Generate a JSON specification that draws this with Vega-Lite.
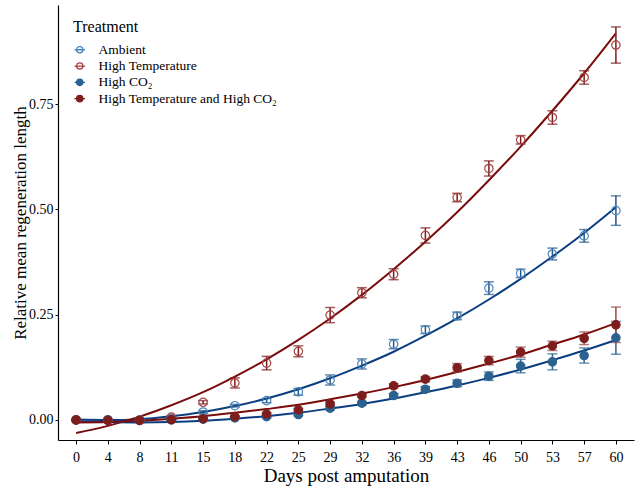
{
"$schema":"https://vega.github.io/schema/vega-lite/v6.json",
"width":576,"height":435,
"autosize":{"type":"none"},
"padding":{"left":58,"top":5,"right":2,"bottom":47},
"config":{"font":"Liberation Serif","view":{"stroke":null},"background":"white"},
"datasets":{"d":[
{"Day":0,"Treatment":"Ambient","Mean":0.000,"Lo":-0.001,"Hi":0.001,"Fit":0.001},
{"Day":4,"Treatment":"Ambient","Mean":0.000,"Lo":-0.001,"Hi":0.001,"Fit":0.000},
{"Day":8,"Treatment":"Ambient","Mean":0.000,"Lo":-0.001,"Hi":0.001,"Fit":0.002},
{"Day":11,"Treatment":"Ambient","Mean":0.004,"Lo":0.002,"Hi":0.006,"Fit":0.009},
{"Day":15,"Treatment":"Ambient","Mean":0.019,"Lo":0.016,"Hi":0.022,"Fit":0.019},
{"Day":18,"Treatment":"Ambient","Mean":0.034,"Lo":0.031,"Hi":0.037,"Fit":0.033},
{"Day":22,"Treatment":"Ambient","Mean":0.046,"Lo":0.041,"Hi":0.051,"Fit":0.051},
{"Day":25,"Treatment":"Ambient","Mean":0.067,"Lo":0.059,"Hi":0.075,"Fit":0.073},
{"Day":29,"Treatment":"Ambient","Mean":0.095,"Lo":0.083,"Hi":0.107,"Fit":0.099},
{"Day":32,"Treatment":"Ambient","Mean":0.133,"Lo":0.121,"Hi":0.145,"Fit":0.129},
{"Day":36,"Treatment":"Ambient","Mean":0.180,"Lo":0.169,"Hi":0.191,"Fit":0.162},
{"Day":39,"Treatment":"Ambient","Mean":0.214,"Lo":0.205,"Hi":0.223,"Fit":0.200},
{"Day":43,"Treatment":"Ambient","Mean":0.247,"Lo":0.238,"Hi":0.256,"Fit":0.241},
{"Day":46,"Treatment":"Ambient","Mean":0.313,"Lo":0.298,"Hi":0.328,"Fit":0.286},
{"Day":50,"Treatment":"Ambient","Mean":0.348,"Lo":0.338,"Hi":0.358,"Fit":0.335},
{"Day":53,"Treatment":"Ambient","Mean":0.394,"Lo":0.380,"Hi":0.408,"Fit":0.388},
{"Day":57,"Treatment":"Ambient","Mean":0.437,"Lo":0.422,"Hi":0.452,"Fit":0.444},
{"Day":60,"Treatment":"Ambient","Mean":0.497,"Lo":0.462,"Hi":0.532,"Fit":0.505},
{"Day":0,"Treatment":"High Temperature","Mean":0.000,"Lo":-0.001,"Hi":0.001,"Fit":-0.031},
{"Day":4,"Treatment":"High Temperature","Mean":0.000,"Lo":-0.001,"Hi":0.001,"Fit":-0.014},
{"Day":8,"Treatment":"High Temperature","Mean":0.000,"Lo":-0.002,"Hi":0.002,"Fit":0.008},
{"Day":11,"Treatment":"High Temperature","Mean":0.007,"Lo":0.004,"Hi":0.010,"Fit":0.035},
{"Day":15,"Treatment":"High Temperature","Mean":0.042,"Lo":0.038,"Hi":0.046,"Fit":0.066},
{"Day":18,"Treatment":"High Temperature","Mean":0.088,"Lo":0.076,"Hi":0.100,"Fit":0.103},
{"Day":22,"Treatment":"High Temperature","Mean":0.135,"Lo":0.119,"Hi":0.151,"Fit":0.144},
{"Day":25,"Treatment":"High Temperature","Mean":0.163,"Lo":0.150,"Hi":0.176,"Fit":0.190},
{"Day":29,"Treatment":"High Temperature","Mean":0.249,"Lo":0.231,"Hi":0.267,"Fit":0.241},
{"Day":32,"Treatment":"High Temperature","Mean":0.302,"Lo":0.290,"Hi":0.314,"Fit":0.297},
{"Day":36,"Treatment":"High Temperature","Mean":0.346,"Lo":0.333,"Hi":0.359,"Fit":0.358},
{"Day":39,"Treatment":"High Temperature","Mean":0.438,"Lo":0.420,"Hi":0.456,"Fit":0.423},
{"Day":43,"Treatment":"High Temperature","Mean":0.528,"Lo":0.518,"Hi":0.538,"Fit":0.493},
{"Day":46,"Treatment":"High Temperature","Mean":0.597,"Lo":0.579,"Hi":0.615,"Fit":0.569},
{"Day":50,"Treatment":"High Temperature","Mean":0.665,"Lo":0.655,"Hi":0.675,"Fit":0.649},
{"Day":53,"Treatment":"High Temperature","Mean":0.718,"Lo":0.702,"Hi":0.734,"Fit":0.734},
{"Day":57,"Treatment":"High Temperature","Mean":0.813,"Lo":0.797,"Hi":0.829,"Fit":0.823},
{"Day":60,"Treatment":"High Temperature","Mean":0.890,"Lo":0.847,"Hi":0.933,"Fit":0.918},
{"Day":0,"Treatment":"High CO₂","Mean":0.000,"Lo":-0.001,"Hi":0.001,"Fit":-0.003},
{"Day":4,"Treatment":"High CO₂","Mean":0.000,"Lo":-0.001,"Hi":0.001,"Fit":-0.005},
{"Day":8,"Treatment":"High CO₂","Mean":-0.001,"Lo":-0.002,"Hi":0.000,"Fit":-0.006},
{"Day":11,"Treatment":"High CO₂","Mean":0.000,"Lo":-0.001,"Hi":0.001,"Fit":-0.005},
{"Day":15,"Treatment":"High CO₂","Mean":0.002,"Lo":0.000,"Hi":0.004,"Fit":-0.002},
{"Day":18,"Treatment":"High CO₂","Mean":0.005,"Lo":0.003,"Hi":0.007,"Fit":0.003},
{"Day":22,"Treatment":"High CO₂","Mean":0.008,"Lo":0.005,"Hi":0.011,"Fit":0.009},
{"Day":25,"Treatment":"High CO₂","Mean":0.013,"Lo":0.010,"Hi":0.016,"Fit":0.017},
{"Day":29,"Treatment":"High CO₂","Mean":0.028,"Lo":0.024,"Hi":0.032,"Fit":0.027},
{"Day":32,"Treatment":"High CO₂","Mean":0.040,"Lo":0.036,"Hi":0.044,"Fit":0.038},
{"Day":36,"Treatment":"High CO₂","Mean":0.058,"Lo":0.053,"Hi":0.063,"Fit":0.051},
{"Day":39,"Treatment":"High CO₂","Mean":0.073,"Lo":0.067,"Hi":0.079,"Fit":0.066},
{"Day":43,"Treatment":"High CO₂","Mean":0.087,"Lo":0.079,"Hi":0.095,"Fit":0.082},
{"Day":46,"Treatment":"High CO₂","Mean":0.104,"Lo":0.094,"Hi":0.114,"Fit":0.100},
{"Day":50,"Treatment":"High CO₂","Mean":0.128,"Lo":0.112,"Hi":0.144,"Fit":0.120},
{"Day":53,"Treatment":"High CO₂","Mean":0.138,"Lo":0.119,"Hi":0.157,"Fit":0.142},
{"Day":57,"Treatment":"High CO₂","Mean":0.153,"Lo":0.135,"Hi":0.171,"Fit":0.165},
{"Day":60,"Treatment":"High CO₂","Mean":0.195,"Lo":0.156,"Hi":0.234,"Fit":0.190},
{"Day":0,"Treatment":"High Temperature and High CO₂","Mean":0.000,"Lo":-0.001,"Hi":0.001,"Fit":-0.006},
{"Day":4,"Treatment":"High Temperature and High CO₂","Mean":-0.001,"Lo":-0.002,"Hi":0.000,"Fit":-0.005},
{"Day":8,"Treatment":"High Temperature and High CO₂","Mean":-0.001,"Lo":-0.002,"Hi":0.000,"Fit":-0.002},
{"Day":11,"Treatment":"High Temperature and High CO₂","Mean":0.001,"Lo":0.000,"Hi":0.002,"Fit":0.003},
{"Day":15,"Treatment":"High Temperature and High CO₂","Mean":0.003,"Lo":0.001,"Hi":0.005,"Fit":0.009},
{"Day":18,"Treatment":"High Temperature and High CO₂","Mean":0.008,"Lo":0.006,"Hi":0.010,"Fit":0.017},
{"Day":22,"Treatment":"High Temperature and High CO₂","Mean":0.014,"Lo":0.011,"Hi":0.017,"Fit":0.026},
{"Day":25,"Treatment":"High Temperature and High CO₂","Mean":0.024,"Lo":0.021,"Hi":0.027,"Fit":0.036},
{"Day":29,"Treatment":"High Temperature and High CO₂","Mean":0.038,"Lo":0.034,"Hi":0.042,"Fit":0.049},
{"Day":32,"Treatment":"High Temperature and High CO₂","Mean":0.058,"Lo":0.054,"Hi":0.062,"Fit":0.063},
{"Day":36,"Treatment":"High Temperature and High CO₂","Mean":0.081,"Lo":0.076,"Hi":0.086,"Fit":0.078},
{"Day":39,"Treatment":"High Temperature and High CO₂","Mean":0.097,"Lo":0.091,"Hi":0.103,"Fit":0.095},
{"Day":43,"Treatment":"High Temperature and High CO₂","Mean":0.124,"Lo":0.114,"Hi":0.134,"Fit":0.114},
{"Day":46,"Treatment":"High Temperature and High CO₂","Mean":0.141,"Lo":0.131,"Hi":0.151,"Fit":0.134},
{"Day":50,"Treatment":"High Temperature and High CO₂","Mean":0.161,"Lo":0.149,"Hi":0.173,"Fit":0.155},
{"Day":53,"Treatment":"High Temperature and High CO₂","Mean":0.176,"Lo":0.165,"Hi":0.187,"Fit":0.179},
{"Day":57,"Treatment":"High Temperature and High CO₂","Mean":0.194,"Lo":0.179,"Hi":0.209,"Fit":0.203},
{"Day":60,"Treatment":"High Temperature and High CO₂","Mean":0.226,"Lo":0.184,"Hi":0.268,"Fit":0.230}
]},
"data":{"name":"d"},
"encoding":{
 "x":{"field":"Day","type":"ordinal","scale":{"type":"point","padding":0.57},
  "axis":{"title":"Days post amputation","titleFontSize":19,"titleFontWeight":"normal","titleColor":"black","labelFontSize":14,"labelColor":"black","labelAngle":0,"domainColor":"black","domainWidth":1.2,"tickColor":"black","tickSize":4,"labelPadding":6,"titlePadding":2,"grid":false}}
},
"layer":[
 {"mark":{"type":"line","interpolate":"monotone","strokeWidth":2},
  "encoding":{
   "y":{"field":"Fit","type":"quantitative","title":"Relative mean regeneration length","scale":{"domain":[-0.0475,0.985],"nice":false,"zero":false},
    "axis":{"values":[0,0.25,0.5,0.75],"format":".2f","titleFontSize":17,"titleFontWeight":"normal","titleColor":"black","labelFontSize":14,"labelColor":"black","domainColor":"black","domainWidth":1.2,"tickColor":"black","tickSize":3,"labelPadding":2,"titlePadding":-1,"grid":false}},
   "color":{"field":"Treatment","type":"nominal","legend":null,"scale":{"domain":["Ambient","High Temperature","High CO₂","High Temperature and High CO₂"],"range":["#0b3e80","#7a0c0c","#0b3e80","#7a0c0c"]}}
  }},
 {"mark":{"type":"rule","strokeWidth":1.5},
  "encoding":{
   "y":{"field":"Lo","type":"quantitative","title":"Relative mean regeneration length","scale":{"domain":[-0.0475,0.985],"nice":false,"zero":false}},
   "y2":{"field":"Hi"},
   "color":{"field":"Treatment","type":"nominal","legend":null,"scale":{"domain":["Ambient","High Temperature","High CO₂","High Temperature and High CO₂"],"range":["#24558c","#7d1d1d","#2f6590","#9b4545"]}}
  }},
 {"mark":{"type":"tick","thickness":1.5,"size":10,"orient":"horizontal"},
  "encoding":{
   "y":{"field":"Lo","type":"quantitative","title":"Relative mean regeneration length","scale":{"domain":[-0.0475,0.985],"nice":false,"zero":false}},
   "color":{"field":"Treatment","type":"nominal","legend":null,"scale":{"domain":["Ambient","High Temperature","High CO₂","High Temperature and High CO₂"],"range":["#24558c","#7d1d1d","#2f6590","#9b4545"]}}
  }},
 {"mark":{"type":"tick","thickness":1.5,"size":10,"orient":"horizontal"},
  "encoding":{
   "y":{"field":"Hi","type":"quantitative","title":"Relative mean regeneration length","scale":{"domain":[-0.0475,0.985],"nice":false,"zero":false}},
   "color":{"field":"Treatment","type":"nominal","legend":null,"scale":{"domain":["Ambient","High Temperature","High CO₂","High Temperature and High CO₂"],"range":["#24558c","#7d1d1d","#2f6590","#9b4545"]}}
  }},
 {"mark":{"type":"circle","size":70,"strokeWidth":1.2,"opacity":1},
  "encoding":{
   "y":{"field":"Mean","type":"quantitative","title":"Relative mean regeneration length","scale":{"domain":[-0.0475,0.985],"nice":false,"zero":false}},
   "fill":{"field":"Treatment","type":"nominal","scale":{"domain":["Ambient","High Temperature","High CO₂","High Temperature and High CO₂"],"range":["transparent","transparent","#2b628f","#7d1e1e"]},
    "legend":{"title":"Treatment","orient":"none","legendX":15,"legendY":14,"titleFontSize":16,"titleFontWeight":"normal","titleColor":"black","titlePadding":8,"labelFontSize":13.5,"labelColor":"black","labelLimit":0,"labelOffset":12,"rowPadding":1.3,"symbolSize":110,"symbolStrokeWidth":1.3,"symbolType":"M-0.6,0A0.6,0.6,0,1,1,0.6,0A0.6,0.6,0,1,1,-0.6,0ZM-1,0L1,0"}},
   "stroke":{"field":"Treatment","type":"nominal","scale":{"domain":["Ambient","High Temperature","High CO₂","High Temperature and High CO₂"],"range":["#4a86bc","#a44444","#2b628f","#7d1e1e"]},
    "legend":{"title":"Treatment","orient":"none","legendX":15,"legendY":14,"titleFontSize":16,"titleFontWeight":"normal","titleColor":"black","titlePadding":8,"labelFontSize":13.5,"labelColor":"black","labelLimit":0,"labelOffset":12,"rowPadding":1.3,"symbolSize":110,"symbolStrokeWidth":1.3,"symbolType":"M-0.6,0A0.6,0.6,0,1,1,0.6,0A0.6,0.6,0,1,1,-0.6,0ZM-1,0L1,0"}}
  }}
],
"resolve":{"scale":{"color":"independent"}}
}
